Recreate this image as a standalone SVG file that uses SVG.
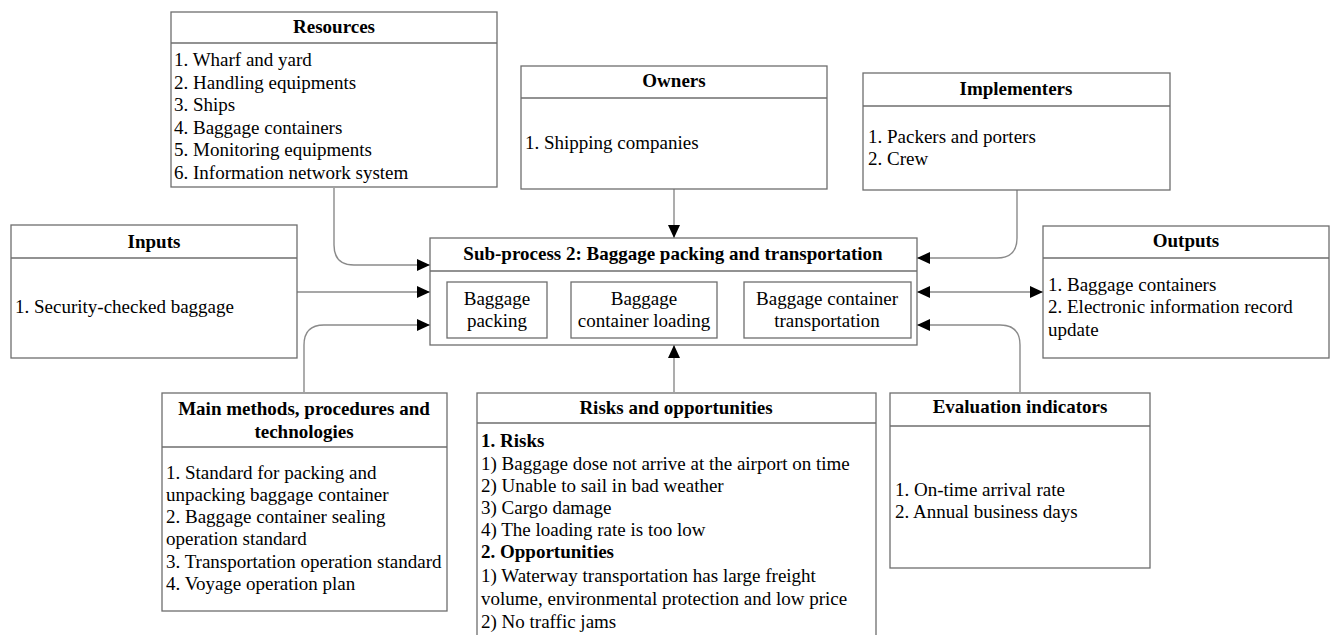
<svg xmlns="http://www.w3.org/2000/svg" width="1330" height="635" viewBox="0 0 1330 635">
<defs>
<marker id="ah" markerUnits="userSpaceOnUse" markerWidth="14" markerHeight="12" refX="13" refY="6" orient="auto-start-reverse">
<path d="M0,0 L13,6 L0,12 Z" fill="#000"/>
</marker>
</defs>
<style>
.box{fill:#fff;stroke:#6e6e6e;stroke-width:1.3}
.sep{stroke:#6e6e6e;stroke-width:1.3}
.t{font-family:"Liberation Serif","Times New Roman",serif;font-size:19px;fill:#000}
.b{font-weight:bold}
.c{text-anchor:middle}
.con{fill:none;stroke:#8a8a8a;stroke-width:1.4}
</style>
<rect width="1330" height="635" fill="#fff"/>

<g id="connectors">
<path class="con" d="M334,188 V245 Q334,265 354,265 H430" marker-end="url(#ah)"/>
<path class="con" d="M674,189 V238" marker-end="url(#ah)"/>
<path class="con" d="M1017,190 V238 Q1017,258 997,258 H917" marker-end="url(#ah)"/>
<path class="con" d="M297,292 H430" marker-end="url(#ah)"/>
<path class="con" d="M304,392 V345 Q304,325 324,325 H430" marker-end="url(#ah)"/>
<path class="con" d="M917,292 H1043" marker-start="url(#ah)" marker-end="url(#ah)"/>
<path class="con" d="M1020,392 V345 Q1020,325 1000,325 H917" marker-end="url(#ah)"/>
<path class="con" d="M674,392 V345" marker-end="url(#ah)"/>
<path class="con" d="M547,310 H571" marker-end="url(#ah)"/>
<path class="con" d="M717,310 H744" marker-end="url(#ah)"/>
</g>

<g id="resources">
<rect class="box" x="171" y="12" width="326" height="175"/>
<line class="sep" x1="171" y1="43" x2="497" y2="43"/>
<text class="t b c" x="334" y="33">Resources</text>
<text class="t" x="174" y="66">1. Wharf and yard</text>
<text class="t" x="174" y="89">2. Handling equipments</text>
<text class="t" x="174" y="111">3. Ships</text>
<text class="t" x="174" y="134">4. Baggage containers</text>
<text class="t" x="174" y="156">5. Monitoring equipments</text>
<text class="t" x="174" y="179">6. Information network system</text>
</g>

<g id="owners">
<rect class="box" x="521" y="66" width="306" height="123"/>
<line class="sep" x1="521" y1="98" x2="827" y2="98"/>
<text class="t b c" x="674" y="87">Owners</text>
<text class="t" x="525" y="149">1. Shipping companies</text>
</g>

<g id="implementers">
<rect class="box" x="863" y="73" width="307" height="117"/>
<line class="sep" x1="863" y1="106" x2="1170" y2="106"/>
<text class="t b c" x="1016" y="95">Implementers</text>
<text class="t" x="868" y="143">1. Packers and porters</text>
<text class="t" x="868" y="165">2. Crew</text>
</g>

<g id="inputs">
<rect class="box" x="11" y="225" width="286" height="133"/>
<line class="sep" x1="11" y1="258" x2="297" y2="258"/>
<text class="t b c" x="154" y="248">Inputs</text>
<text class="t" x="15" y="313">1. Security-checked baggage</text>
</g>

<g id="outputs">
<rect class="box" x="1043" y="226" width="286" height="132"/>
<line class="sep" x1="1043" y1="258" x2="1329" y2="258"/>
<text class="t b c" x="1186" y="247">Outputs</text>
<text class="t" x="1048" y="291">1. Baggage containers</text>
<text class="t" x="1048" y="313">2. Electronic information record</text>
<text class="t" x="1048" y="336">update</text>
</g>

<g id="subprocess">
<rect class="box" x="430" y="238" width="487" height="107"/>
<line class="sep" x1="430" y1="271" x2="917" y2="271"/>
<text class="t b c" x="673" y="260">Sub-process 2: Baggage packing and transportation</text>
</g>

<g id="packing">
<rect class="box" x="447" y="282" width="100" height="56"/>
<text class="t c" x="497" y="305">Baggage</text>
<text class="t c" x="497" y="327">packing</text>
</g>

<g id="loading">
<rect class="box" x="571" y="282" width="146" height="56"/>
<text class="t c" x="644" y="305">Baggage</text>
<text class="t c" x="644" y="327">container loading</text>
</g>

<g id="transport">
<rect class="box" x="744" y="282" width="167" height="56"/>
<text class="t c" x="827" y="305">Baggage container</text>
<text class="t c" x="827" y="327">transportation</text>
</g>

<g id="methods">
<rect class="box" x="162" y="393" width="285" height="218"/>
<line class="sep" x1="162" y1="447" x2="447" y2="447"/>
<text class="t b c" x="304" y="415">Main methods, procedures and</text>
<text class="t b c" x="304" y="438">technologies</text>
<text class="t" x="166" y="479">1. Standard for packing and</text>
<text class="t" x="166" y="501">unpacking baggage container</text>
<text class="t" x="166" y="523">2. Baggage container sealing</text>
<text class="t" x="166" y="545">operation standard</text>
<text class="t" x="166" y="568">3. Transportation operation standard</text>
<text class="t" x="166" y="590">4. Voyage operation plan</text>
</g>

<g id="risks">
<rect class="box" x="477" y="393" width="399" height="250"/>
<line class="sep" x1="477" y1="423" x2="876" y2="423"/>
<text class="t b c" x="676" y="414">Risks and opportunities</text>
<text class="t b" x="481" y="447">1. Risks</text>
<text class="t" x="481" y="470">1) Baggage dose not arrive at the airport on time</text>
<text class="t" x="481" y="492">2) Unable to sail in bad weather</text>
<text class="t" x="481" y="514">3) Cargo damage</text>
<text class="t" x="481" y="536">4) The loading rate is too low</text>
<text class="t b" x="481" y="558">2. Opportunities</text>
<text class="t" x="481" y="582">1) Waterway transportation has large freight</text>
<text class="t" x="481" y="605">volume, environmental protection and low price</text>
<text class="t" x="481" y="628">2) No traffic jams</text>
</g>

<g id="evaluation">
<rect class="box" x="890" y="393" width="260" height="175"/>
<line class="sep" x1="890" y1="426" x2="1150" y2="426"/>
<text class="t b c" x="1020" y="413">Evaluation indicators</text>
<text class="t" x="895" y="496">1. On-time arrival rate</text>
<text class="t" x="895" y="518">2. Annual business days</text>
</g>
</svg>
